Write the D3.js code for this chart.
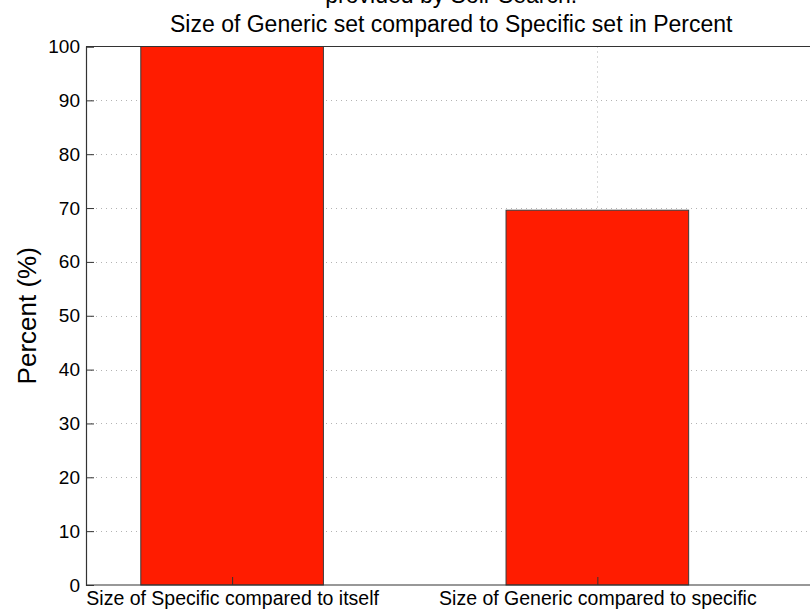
<!DOCTYPE html>
<html>
<head>
<meta charset="utf-8">
<script src="https://cdn.jsdelivr.net/npm/d3@7"></script>
<style>
  html, body { margin: 0; padding: 0; background: #fff; }
  svg { display: block; font-family: "Liberation Sans", Arial, Helvetica, sans-serif; }
</style>
</head>
<body>
<svg id="chart" width="810" height="613"></svg>
<script>
// Data
const categories = ["Size of Specific compared to itself", "Size of Generic compared to specific"];
const percentValues = [100, 69.6];
const yTicks = [0, 10, 20, 30, 40, 50, 60, 70, 80, 90, 100];
const titleLines = ["provided by Solr Search.", "Size of Generic set compared to Specific set in Percent"];
const yLabel = "Percent (%)";

const margin = { left: 86, top: 46.5, right: 816.5, bottom: 585 };

const svg = d3.select("#chart");

// Bars sit at positions 1..n on a numeric axis, like a classic bar plot
const x = d3.scaleLinear().domain([0.6, 2.6]).range([margin.left, margin.right]);
const y = d3.scaleLinear().domain([0, 100]).range([margin.bottom, margin.top]);
const barWidth = 0.5;

const plot = svg.append("g");

// dotted grid
const grid = plot.append("g").attr("stroke", "#b4b4b4").attr("stroke-width", 1)
  .attr("stroke-dasharray", "1,4").attr("fill", "none");
grid.selectAll("line.h").data(yTicks.filter(d => d > 0 && d < 100)).join("line")
  .attr("class", "h")
  .attr("x1", margin.left).attr("x2", margin.right)
  .attr("y1", d => Math.round(y(d)) + 0.5).attr("y2", d => Math.round(y(d)) + 0.5);
grid.selectAll("line.v").data(categories.map((c, i) => i + 1)).join("line")
  .attr("class", "v")
  .attr("x1", d => Math.round(x(d)) + 0.5).attr("x2", d => Math.round(x(d)) + 0.5)
  .attr("y1", margin.top).attr("y2", margin.bottom);

// bars
plot.selectAll("rect.bar").data(percentValues).join("rect")
  .attr("class", "bar")
  .attr("x", (d, i) => x(i + 1 - barWidth / 2))
  .attr("width", (d, i) => x(i + 1 + barWidth / 2) - x(i + 1 - barWidth / 2))
  .attr("y", d => y(d))
  .attr("height", d => y(0) - y(d))
  .attr("fill", "#ff1c00")
  .attr("stroke", "#3a3a3a")
  .attr("stroke-width", 1);

// box
const box = plot.append("g").attr("stroke", "#333").attr("stroke-width", 1.2).attr("fill", "none");
box.append("line").attr("x1", margin.left).attr("x2", margin.right).attr("y1", margin.top).attr("y2", margin.top);
box.append("line").attr("x1", margin.left).attr("x2", margin.right).attr("y1", margin.bottom).attr("y2", margin.bottom);

// y axis with inward ticks
const yAxis = d3.axisLeft(y).tickValues(yTicks).tickSize(-8).tickPadding(8).tickFormat(d3.format("d"));
const yg = svg.append("g").attr("transform", `translate(${margin.left},0)`).call(yAxis);
yg.select(".domain").attr("stroke", "#333").attr("stroke-width", 1.2);
yg.selectAll(".tick line").attr("stroke", "#333");
yg.selectAll(".tick text").attr("font-size", 19).attr("fill", "#000")
  .attr("font-family", "Liberation Sans, Arial, sans-serif").attr("dx", 2);

// x axis labels
const xAxis = d3.axisBottom(x).tickValues(categories.map((c, i) => i + 1))
  .tickSize(-8).tickPadding(6).tickFormat((d) => categories[d - 1]);
const xg = svg.append("g").attr("transform", `translate(0,${margin.bottom})`).call(xAxis);
xg.select(".domain").remove();
xg.selectAll(".tick line").attr("stroke", "#333");
xg.selectAll(".tick text").attr("font-size", 19.5).attr("fill", "#000")
  .attr("font-family", "Liberation Sans, Arial, sans-serif").attr("dy", "0.7em");

// y label
svg.append("text")
  .attr("transform", `translate(36,${(margin.top + margin.bottom) / 2}) rotate(-90)`)
  .attr("text-anchor", "middle")
  .attr("font-size", 26)
  .attr("fill", "#000")
  .text(yLabel);

// title
const cx = (margin.left + margin.right) / 2;
svg.selectAll("text.title").data(titleLines).join("text")
  .attr("class", "title")
  .attr("x", cx)
  .attr("y", (d, i) => 3 + i * 28.5)
  .attr("text-anchor", "middle")
  .attr("font-size", 23)
  .attr("fill", "#000")
  .text(d => d);
</script>
</body>
</html>
